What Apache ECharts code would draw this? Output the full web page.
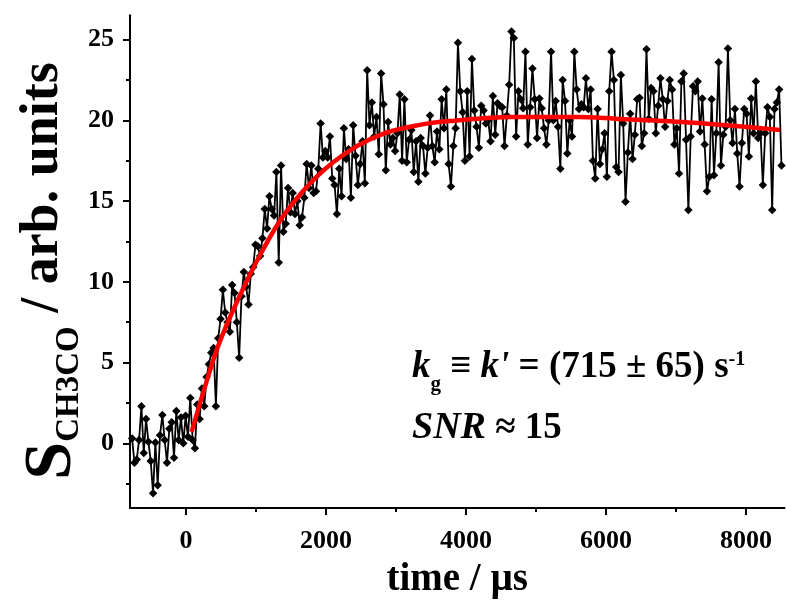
<!DOCTYPE html>
<html>
<head>
<meta charset="utf-8">
<script src="https://cdn.jsdelivr.net/npm/echarts@6/dist/echarts.min.js"></script>
<style>html,body{margin:0;padding:0;background:#fff;}#chart{width:787px;height:603px;}</style>
</head>
<body>
<div id="chart"></div>
<script>
// sampling grid of the measured trace (µs)
const T0 = -770;
const DT = 33.25;
const signal = [
  0.3, -1.2, -1.0, 0.2, 2.3, -0.6, 1.5, 0.1, -1.1, -3.1,
  0.05, -2.6, 0.5, 1.75, 0.2, -1.2, 0.9, 1.3, -0.9, 2.0,
  0.2, 1.6, 0.0, 1.7, 0.4, 2.8, 0.2, -0.3,
  2.4, 1.5, 3.4, 2.3, 4.1, 4.9, 5.6, 5.9, 2.3, 6.5,
  7.7, 9.5, 8.1, 7.5, 6.9, 9.8, 9.3, 7.5, 5.3, 9.1,
  10.6, 9.7, 8.6, 10.5, 10.9, 12.3, 12.2, 11.6, 12.7, 14.5,
  13.3, 15.3, 14.5, 14.1, 16.8, 11.2, 17.2, 13.1,
  13.6, 15.8, 14.3, 15.5, 14.2, 15.0, 13.5, 14.0, 15.2,
  17.3, 15.8, 17.2, 15.5, 15.6, 17.0, 19.8, 17.7, 18.1, 17.7,
  19.0, 16.4, 16.0, 14.2, 17.0, 15.3, 19.5, 17.6, 18.2, 15.2,
  19.7, 17.8, 16.0, 17.3, 18.7, 16.1, 23.1, 19.7, 21.1, 19.0,
  20.2, 17.9, 22.9, 21.0, 16.9, 19.9, 18.5, 18.9, 18.1, 19.2,
  21.6, 17.5, 21.3, 17.4, 18.8, 19.4, 16.8, 18.7, 16.2, 18.9,
  18.4, 16.7, 18.3, 20.3, 18.4, 17.4, 19.3, 18.2, 21.3, 19.5,
  21.9, 17.3, 15.9, 18.4, 19.5, 24.8, 21.8, 20.5,
  17.5, 21.8, 17.75, 23.8, 20.6, 19.6, 18.3, 20.9, 20.6, 19.8,
  20.0, 18.7, 21.5, 19.1, 21.05, 20.9, 20.8, 18.4, 20.3,
  22.2, 25.5, 25.1, 19.0, 21.8, 21.3, 20.75, 24.25, 18.5, 20.8, 23.2, 21.3, 18.9,
  21.35, 20.75, 19.5, 18.5, 20.0, 24.25, 20.0, 21.2, 19.6,
  17.0, 22.5, 21.2, 17.95, 20.0, 19.0, 24.25, 21.9, 20.7, 21.0,
  20.8, 22.6, 20.7, 21.9, 17.5, 16.4, 20.7, 17.3, 18.2,
  19.2, 16.5, 21.8, 24.25,
  22.5, 17.1, 16.8, 22.8, 19.8, 14.96, 18.0, 20.4, 17.6, 19.1,
  21.3, 21.4, 18.4, 19.2, 24.4, 20.1, 22.0, 21.8, 19.2, 20.9,
  22.6, 21.3, 19.6, 21.2, 22.5, 21.9, 18.5, 19.5, 16.7, 22.4,
  22.9, 18.8, 14.45, 19.0,
  22.1, 21.8, 22.4, 19.3, 21.35, 18.5, 15.6, 16.5, 21.3, 16.6,
  19.2, 23.6, 17.2, 19.1, 19.6, 24.45, 20.0, 18.6, 20.7, 17.95,
  15.9, 18.6, 20.7, 20.4, 17.75, 21.35, 19.2, 22.4, 18.9, 19.2,
  16.0, 19.2, 20.8, 20.2, 14.45, 20.7, 21.1, 21.9, 17.2
];
// fitted curve, read at these times
const fitTimes  = [80, 250, 457, 743, 1076, 1410, 1890, 2367, 2843, 3319, 3771, 4653, 5605, 6129, 7248, 8486];
const fitValues = [0.7, 3.2, 6.0, 8.9, 11.8, 14.2, 16.6, 18.2, 19.2, 19.7, 19.95, 20.2, 20.2, 20.1, 19.85, 19.4];
// tick labels
const xMajor = [0, 2000, 4000, 6000, 8000];
const xMinor = [1000, 3000, 5000, 7000];
const yMajor = [0, 5, 10, 15, 20, 25];
const yMinor = [-2.5, 2.5, 7.5, 12.5, 17.5, 22.5];

const FONT = 'Liberation Serif';
const signalData = signal.map((v, i) => [T0 + i * DT, v]);
const fitData = fitTimes.map((t, i) => [t, fitValues[i]]);

const chart = echarts.init(document.getElementById('chart'), null, {renderer: 'canvas'});
const axisLine = {show: true, onZero: false, lineStyle: {color: '#000', width: 2}};
const labelStyle = {color: '#000', fontFamily: FONT, fontWeight: 'bold', fontSize: 26, formatter: v => String(v)};
const XMIN = -800, XMAX = 8550, YMIN = -4, YMAX = 26.5;

chart.setOption({
  animation: false,
  backgroundColor: '#fff',
  grid: {left: 130, right: 2.5, top: 15.3, bottom: 95.1, containLabel: false, outerBoundsMode: 'none'},
  xAxis: [
    {
      type: 'value', min: XMIN, max: XMAX, position: 'bottom',
      axisLine: axisLine,
      axisTick: {show: true, inside: false, length: 7, customValues: xMajor, lineStyle: {color: '#000', width: 2}},
      axisLabel: Object.assign({customValues: xMajor, margin: 20}, labelStyle),
      splitLine: {show: false},
      name: 'time / µs', nameLocation: 'middle', nameGap: 53,
      nameTextStyle: {color: '#000', fontFamily: FONT, fontWeight: 'bold', fontSize: 39}
    },
    {
      type: 'value', min: XMIN, max: XMAX, position: 'bottom', gridIndex: 0,
      axisLine: {show: false, onZero: false},
      axisTick: {show: true, inside: false, length: 4, customValues: xMinor, lineStyle: {color: '#000', width: 2}},
      axisLabel: {show: false},
      splitLine: {show: false}
    }
  ],
  yAxis: [
    {
      type: 'value', min: YMIN, max: YMAX, position: 'left',
      axisLine: axisLine,
      axisTick: {show: true, inside: false, length: 7, customValues: yMajor, lineStyle: {color: '#000', width: 2}},
      axisLabel: Object.assign({customValues: yMajor, margin: 16}, labelStyle),
      splitLine: {show: false}
    },
    {
      type: 'value', min: YMIN, max: YMAX, position: 'left', gridIndex: 0,
      axisLine: {show: false, onZero: false},
      axisTick: {show: true, inside: false, length: 4, customValues: yMinor, lineStyle: {color: '#000', width: 2}},
      axisLabel: {show: false},
      splitLine: {show: false}
    }
  ],
  graphic: [
    {
      type: 'text', x: 12, y: 271, rotation: Math.PI / 2,
      style: {
        x: 0, y: 0, align: 'center', verticalAlign: 'top',
        text: '{s|S}{sub|CH3CO}{t| / arb. units}',
        rich: {
          s: {fontFamily: FONT, fontWeight: 'bold', fontSize: 68, lineHeight: 80, verticalAlign: 'middle', fill: '#000'},
          sub: {fontFamily: FONT, fontWeight: 'bold', fontSize: 33, verticalAlign: 'bottom', padding: [0, 0, 6, 0], fill: '#000'},
          t: {fontFamily: FONT, fontWeight: 'bold', fontSize: 54, verticalAlign: 'top', padding: [4, 0, 0, 0], fill: '#000'}
        }
      }
    },
    {
      type: 'text', x: 412, y: 337, z: 100,
      style: {
        x: 0, y: 0, align: 'left', verticalAlign: 'top',
        text: '{ki|k}{sub|g}{b| ≡ }{ki|k\'}{b| = (715 ± 65) s}{sup|-1}\n{bi|SNR}{b| ≈ 15}',
        rich: {
          ki: {fontFamily: FONT, fontWeight: 'bold', fontStyle: 'italic', fontSize: 37, lineHeight: 61, fill: '#000'},
          bi: {fontFamily: FONT, fontWeight: 'bold', fontStyle: 'italic', fontSize: 38, lineHeight: 61, fill: '#000'},
          b: {fontFamily: FONT, fontWeight: 'bold', fontSize: 37, lineHeight: 61, fill: '#000'},
          sub: {fontFamily: FONT, fontWeight: 'bold', fontSize: 21, verticalAlign: 'bottom', padding: [0, 0, 3, 0], fill: '#000'},
          sup: {fontFamily: FONT, fontWeight: 'bold', fontSize: 20, verticalAlign: 'top', padding: [13, 0, 0, 0], fill: '#000'}
        }
      }
    }
  ],
  series: [
    {
      type: 'line', name: 'signal', xAxisIndex: 0, yAxisIndex: 0, z: 2,
      data: signalData,
      symbol: 'diamond', symbolSize: 8.5, showSymbol: true,
      itemStyle: {color: '#000'},
      lineStyle: {color: '#000', width: 1.8},
      emphasis: {disabled: true}
    },
    {
      type: 'line', name: 'fit', xAxisIndex: 0, yAxisIndex: 0, z: 3,
      data: fitData, smooth: 0.35, showSymbol: false, symbol: 'none',
      lineStyle: {color: '#ff0000', width: 4.5},
      emphasis: {disabled: true}
    }
  ]
});
</script>
</body>
</html>
